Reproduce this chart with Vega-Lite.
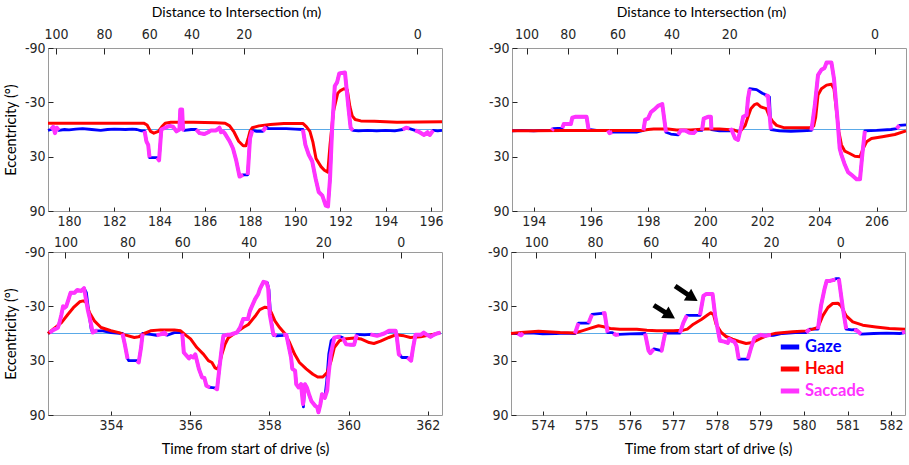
{
"$schema": "https://vega.github.io/schema/vega-lite/v6.json",
"padding": {"left": 2, "top": 4, "right": 2, "bottom": 2},
"background": "white",
"spacing": 5,
"datasets": {
"p1": [
{"s":"Gaze","g":0,"t":179.07,"v":1},{"s":"Gaze","g":0,"t":179.2,"v":0},{"s":"Gaze","g":0,"t":179.3,"v":-3},{"s":"Gaze","g":0,"t":179.38,"v":4},{"s":"Gaze","g":0,"t":179.46,"v":-2},{"s":"Gaze","g":0,"t":179.55,"v":1},{"s":"Gaze","g":0,"t":179.8,"v":0},{"s":"Gaze","g":0,"t":180.0,"v":0.5},{"s":"Gaze","g":0,"t":180.3,"v":-0.5},{"s":"Gaze","g":0,"t":180.6,"v":-1},{"s":"Gaze","g":0,"t":181.0,"v":0},{"s":"Gaze","g":0,"t":181.4,"v":1},{"s":"Gaze","g":0,"t":181.7,"v":0},{"s":"Gaze","g":0,"t":182.0,"v":-0.5},{"s":"Gaze","g":0,"t":182.5,"v":0},{"s":"Gaze","g":0,"t":182.8,"v":-0.5},{"s":"Gaze","g":0,"t":183.0,"v":0},{"s":"Gaze","g":0,"t":183.2,"v":1.5},{"s":"Gaze","g":0,"t":183.34,"v":1.5},{"s":"Gaze","g":0,"t":183.42,"v":13},{"s":"Gaze","g":0,"t":183.5,"v":17},{"s":"Gaze","g":0,"t":183.56,"v":31},{"s":"Gaze","g":0,"t":183.9,"v":31},{"s":"Gaze","g":0,"t":183.98,"v":34},{"s":"Gaze","g":0,"t":184.08,"v":0},{"s":"Gaze","g":0,"t":184.25,"v":-2},{"s":"Gaze","g":0,"t":184.45,"v":-4},{"s":"Gaze","g":0,"t":184.6,"v":-3},{"s":"Gaze","g":0,"t":184.75,"v":2},{"s":"Gaze","g":0,"t":184.88,"v":0},{"s":"Gaze","g":0,"t":184.92,"v":-22},{"s":"Gaze","g":0,"t":185.0,"v":-22},{"s":"Gaze","g":0,"t":185.04,"v":0},{"s":"Gaze","g":0,"t":185.1,"v":1},{"s":"Gaze","g":0,"t":185.4,"v":0},{"s":"Gaze","g":0,"t":185.62,"v":0},{"s":"Gaze","g":0,"t":185.77,"v":4},{"s":"Gaze","g":0,"t":185.99,"v":5},{"s":"Gaze","g":0,"t":186.15,"v":3},{"s":"Gaze","g":0,"t":186.28,"v":1},{"s":"Gaze","g":0,"t":186.5,"v":1},{"s":"Gaze","g":0,"t":186.65,"v":-2},{"s":"Gaze","g":0,"t":186.72,"v":3},{"s":"Gaze","g":0,"t":186.8,"v":2},{"s":"Gaze","g":0,"t":186.88,"v":4},{"s":"Gaze","g":0,"t":187.1,"v":13},{"s":"Gaze","g":0,"t":187.25,"v":21},{"s":"Gaze","g":0,"t":187.39,"v":34},{"s":"Gaze","g":0,"t":187.54,"v":52},{"s":"Gaze","g":0,"t":187.7,"v":50},{"s":"Gaze","g":0,"t":187.9,"v":50},{"s":"Gaze","g":0,"t":188.0,"v":10},{"s":"Gaze","g":0,"t":188.1,"v":1},{"s":"Gaze","g":0,"t":188.3,"v":2},{"s":"Gaze","g":0,"t":188.57,"v":2},{"s":"Gaze","g":0,"t":188.65,"v":-1},{"s":"Gaze","g":0,"t":188.72,"v":-3},{"s":"Gaze","g":0,"t":188.8,"v":-1},{"s":"Gaze","g":0,"t":189.2,"v":-1},{"s":"Gaze","g":0,"t":189.6,"v":-1},{"s":"Gaze","g":0,"t":190.0,"v":-0.5},{"s":"Gaze","g":0,"t":190.34,"v":0},{"s":"Gaze","g":0,"t":190.45,"v":17},{"s":"Gaze","g":0,"t":190.6,"v":28},{"s":"Gaze","g":0,"t":190.75,"v":35},{"s":"Gaze","g":0,"t":190.9,"v":54},{"s":"Gaze","g":0,"t":191.04,"v":69},{"s":"Gaze","g":0,"t":191.2,"v":73},{"s":"Gaze","g":0,"t":191.35,"v":84},{"s":"Gaze","g":0,"t":191.45,"v":85},{"s":"Gaze","g":0,"t":191.54,"v":54},{"s":"Gaze","g":0,"t":191.63,"v":0},{"s":"Gaze","g":0,"t":191.75,"v":-48},{"s":"Gaze","g":0,"t":191.85,"v":-52},{"s":"Gaze","g":0,"t":191.95,"v":-62},{"s":"Gaze","g":0,"t":192.2,"v":-63},{"s":"Gaze","g":0,"t":192.35,"v":-25},{"s":"Gaze","g":0,"t":192.45,"v":-2},{"s":"Gaze","g":0,"t":192.55,"v":1},{"s":"Gaze","g":0,"t":192.8,"v":1.5},{"s":"Gaze","g":0,"t":193.2,"v":1},{"s":"Gaze","g":0,"t":193.6,"v":1.5},{"s":"Gaze","g":0,"t":194.0,"v":1},{"s":"Gaze","g":0,"t":194.4,"v":1.5},{"s":"Gaze","g":0,"t":194.75,"v":0},{"s":"Gaze","g":0,"t":194.9,"v":-2},{"s":"Gaze","g":0,"t":195.05,"v":-1},{"s":"Gaze","g":0,"t":195.3,"v":1},{"s":"Gaze","g":0,"t":195.5,"v":3},{"s":"Gaze","g":0,"t":195.7,"v":6},{"s":"Gaze","g":0,"t":195.85,"v":3},{"s":"Gaze","g":0,"t":195.95,"v":6},{"s":"Gaze","g":0,"t":196.1,"v":1},{"s":"Gaze","g":0,"t":196.3,"v":1.5},{"s":"Gaze","g":0,"t":196.49,"v":1},
{"s":"Head","g":0,"t":179.07,"v":-7},{"s":"Head","g":0,"t":183.3,"v":-7},{"s":"Head","g":0,"t":183.45,"v":-5},{"s":"Head","g":0,"t":183.6,"v":2},{"s":"Head","g":0,"t":183.75,"v":4},{"s":"Head","g":0,"t":183.95,"v":2},{"s":"Head","g":0,"t":184.1,"v":-3},{"s":"Head","g":0,"t":184.25,"v":-7},{"s":"Head","g":0,"t":184.5,"v":-8},{"s":"Head","g":0,"t":185.5,"v":-8},{"s":"Head","g":0,"t":186.5,"v":-7.5},{"s":"Head","g":0,"t":186.9,"v":-7},{"s":"Head","g":0,"t":187.1,"v":-4},{"s":"Head","g":0,"t":187.3,"v":3},{"s":"Head","g":0,"t":187.5,"v":13},{"s":"Head","g":0,"t":187.7,"v":18},{"s":"Head","g":0,"t":187.82,"v":18},{"s":"Head","g":0,"t":187.92,"v":10},{"s":"Head","g":0,"t":188.0,"v":2},{"s":"Head","g":0,"t":188.1,"v":-2},{"s":"Head","g":0,"t":188.4,"v":-4},{"s":"Head","g":0,"t":188.9,"v":-5.5},{"s":"Head","g":0,"t":189.5,"v":-6.5},{"s":"Head","g":0,"t":190.35,"v":-6.5},{"s":"Head","g":0,"t":190.5,"v":-3},{"s":"Head","g":0,"t":190.65,"v":2},{"s":"Head","g":0,"t":190.78,"v":13.6},{"s":"Head","g":0,"t":190.92,"v":32},{"s":"Head","g":0,"t":191.14,"v":41},{"s":"Head","g":0,"t":191.29,"v":45},{"s":"Head","g":0,"t":191.44,"v":47},{"s":"Head","g":0,"t":191.54,"v":17},{"s":"Head","g":0,"t":191.69,"v":-20},{"s":"Head","g":0,"t":191.88,"v":-40},{"s":"Head","g":0,"t":192.0,"v":-43},{"s":"Head","g":0,"t":192.15,"v":-45},{"s":"Head","g":0,"t":192.3,"v":-44},{"s":"Head","g":0,"t":192.42,"v":-25},{"s":"Head","g":0,"t":192.52,"v":-15},{"s":"Head","g":0,"t":192.65,"v":-11},{"s":"Head","g":0,"t":192.9,"v":-9.5},{"s":"Head","g":0,"t":193.5,"v":-9},{"s":"Head","g":0,"t":194.5,"v":-8},{"s":"Head","g":0,"t":196.49,"v":-8.5},
{"s":"Saccade","g":1,"t":179.2,"v":0},{"s":"Saccade","g":1,"t":179.3,"v":-3},{"s":"Saccade","g":1,"t":179.38,"v":4},{"s":"Saccade","g":1,"t":179.46,"v":-2},{"s":"Saccade","g":1,"t":179.55,"v":1},
{"s":"Saccade","g":2,"t":183.34,"v":1.5},{"s":"Saccade","g":2,"t":183.42,"v":13},{"s":"Saccade","g":2,"t":183.5,"v":17},{"s":"Saccade","g":2,"t":183.56,"v":31},
{"s":"Saccade","g":3,"t":183.9,"v":31},{"s":"Saccade","g":3,"t":183.98,"v":34},{"s":"Saccade","g":3,"t":184.08,"v":0},{"s":"Saccade","g":3,"t":184.25,"v":-2},{"s":"Saccade","g":3,"t":184.45,"v":-4},{"s":"Saccade","g":3,"t":184.6,"v":-3},{"s":"Saccade","g":3,"t":184.75,"v":2},{"s":"Saccade","g":3,"t":184.88,"v":0},{"s":"Saccade","g":3,"t":184.92,"v":-22},{"s":"Saccade","g":3,"t":185.0,"v":-22},{"s":"Saccade","g":3,"t":185.04,"v":0},{"s":"Saccade","g":3,"t":185.1,"v":1},
{"s":"Saccade","g":4,"t":185.62,"v":0},{"s":"Saccade","g":4,"t":185.77,"v":4},{"s":"Saccade","g":4,"t":185.99,"v":5},{"s":"Saccade","g":4,"t":186.15,"v":3},{"s":"Saccade","g":4,"t":186.28,"v":1},{"s":"Saccade","g":4,"t":186.5,"v":1},{"s":"Saccade","g":4,"t":186.65,"v":-2},{"s":"Saccade","g":4,"t":186.72,"v":3},{"s":"Saccade","g":4,"t":186.8,"v":2},{"s":"Saccade","g":4,"t":186.88,"v":4},{"s":"Saccade","g":4,"t":187.1,"v":13},{"s":"Saccade","g":4,"t":187.25,"v":21},{"s":"Saccade","g":4,"t":187.39,"v":34},{"s":"Saccade","g":4,"t":187.54,"v":52},{"s":"Saccade","g":4,"t":187.7,"v":50},
{"s":"Saccade","g":5,"t":187.9,"v":50},{"s":"Saccade","g":5,"t":188.0,"v":10},{"s":"Saccade","g":5,"t":188.1,"v":1},
{"s":"Saccade","g":6,"t":188.57,"v":2},{"s":"Saccade","g":6,"t":188.65,"v":-1},{"s":"Saccade","g":6,"t":188.72,"v":-3},
{"s":"Saccade","g":7,"t":190.34,"v":0},{"s":"Saccade","g":7,"t":190.45,"v":17},{"s":"Saccade","g":7,"t":190.6,"v":28},{"s":"Saccade","g":7,"t":190.75,"v":35},{"s":"Saccade","g":7,"t":190.9,"v":54},{"s":"Saccade","g":7,"t":191.04,"v":69},{"s":"Saccade","g":7,"t":191.2,"v":73},{"s":"Saccade","g":7,"t":191.35,"v":84},{"s":"Saccade","g":7,"t":191.45,"v":85},{"s":"Saccade","g":7,"t":191.54,"v":54},{"s":"Saccade","g":7,"t":191.63,"v":0},{"s":"Saccade","g":7,"t":191.75,"v":-48},{"s":"Saccade","g":7,"t":191.85,"v":-52},{"s":"Saccade","g":7,"t":191.95,"v":-62},{"s":"Saccade","g":7,"t":192.2,"v":-63},{"s":"Saccade","g":7,"t":192.35,"v":-25},{"s":"Saccade","g":7,"t":192.45,"v":-2},{"s":"Saccade","g":7,"t":192.55,"v":1},
{"s":"Saccade","g":8,"t":194.75,"v":0},{"s":"Saccade","g":8,"t":194.9,"v":-2},{"s":"Saccade","g":8,"t":195.05,"v":-1},
{"s":"Saccade","g":9,"t":195.3,"v":1},{"s":"Saccade","g":9,"t":195.5,"v":3},{"s":"Saccade","g":9,"t":195.7,"v":6},{"s":"Saccade","g":9,"t":195.85,"v":3},{"s":"Saccade","g":9,"t":195.95,"v":6},{"s":"Saccade","g":9,"t":196.1,"v":1}
],
"p2": [
{"s":"Gaze","g":0,"t":193.24,"v":1.5},{"s":"Gaze","g":0,"t":193.6,"v":1},{"s":"Gaze","g":0,"t":194.0,"v":1.5},{"s":"Gaze","g":0,"t":194.3,"v":1},{"s":"Gaze","g":0,"t":194.63,"v":1},{"s":"Gaze","g":0,"t":194.68,"v":-1},{"s":"Gaze","g":0,"t":195.0,"v":-1.5},{"s":"Gaze","g":0,"t":195.05,"v":-6},{"s":"Gaze","g":0,"t":195.3,"v":-6},{"s":"Gaze","g":0,"t":195.35,"v":-13},{"s":"Gaze","g":0,"t":195.45,"v":-14},{"s":"Gaze","g":0,"t":195.85,"v":-14},{"s":"Gaze","g":0,"t":195.92,"v":0},{"s":"Gaze","g":0,"t":196.2,"v":1},{"s":"Gaze","g":0,"t":196.6,"v":1},{"s":"Gaze","g":0,"t":196.65,"v":4},{"s":"Gaze","g":0,"t":196.75,"v":3},{"s":"Gaze","g":0,"t":197.2,"v":3},{"s":"Gaze","g":0,"t":197.6,"v":3},{"s":"Gaze","g":0,"t":197.84,"v":1},{"s":"Gaze","g":0,"t":197.9,"v":-11},{"s":"Gaze","g":0,"t":198.0,"v":-12},{"s":"Gaze","g":0,"t":198.1,"v":-19},{"s":"Gaze","g":0,"t":198.25,"v":-23},{"s":"Gaze","g":0,"t":198.35,"v":-26},{"s":"Gaze","g":0,"t":198.5,"v":-28},{"s":"Gaze","g":0,"t":198.63,"v":3},{"s":"Gaze","g":0,"t":198.8,"v":5},{"s":"Gaze","g":0,"t":199.05,"v":6},{"s":"Gaze","g":0,"t":199.15,"v":1},{"s":"Gaze","g":0,"t":199.3,"v":1},{"s":"Gaze","g":0,"t":199.45,"v":3.5},{"s":"Gaze","g":0,"t":199.6,"v":4},{"s":"Gaze","g":0,"t":199.7,"v":1},{"s":"Gaze","g":0,"t":199.89,"v":1},{"s":"Gaze","g":0,"t":199.95,"v":-12},{"s":"Gaze","g":0,"t":200.1,"v":-14},{"s":"Gaze","g":0,"t":200.2,"v":-14},{"s":"Gaze","g":0,"t":200.22,"v":0},{"s":"Gaze","g":0,"t":200.5,"v":1.5},{"s":"Gaze","g":0,"t":200.86,"v":1.5},{"s":"Gaze","g":0,"t":200.92,"v":0},{"s":"Gaze","g":0,"t":201.05,"v":10},{"s":"Gaze","g":0,"t":201.15,"v":11.5},{"s":"Gaze","g":0,"t":201.27,"v":-4},{"s":"Gaze","g":0,"t":201.33,"v":-14},{"s":"Gaze","g":0,"t":201.45,"v":-16},{"s":"Gaze","g":0,"t":201.5,"v":-34},{"s":"Gaze","g":0,"t":201.56,"v":-45},{"s":"Gaze","g":0,"t":201.8,"v":-44},{"s":"Gaze","g":0,"t":202.0,"v":-40},{"s":"Gaze","g":0,"t":202.14,"v":-38},{"s":"Gaze","g":0,"t":202.25,"v":-36},{"s":"Gaze","g":0,"t":202.3,"v":0},{"s":"Gaze","g":0,"t":202.6,"v":1.5},{"s":"Gaze","g":0,"t":203.0,"v":2},{"s":"Gaze","g":0,"t":203.4,"v":1.5},{"s":"Gaze","g":0,"t":203.72,"v":1},{"s":"Gaze","g":0,"t":203.84,"v":-27},{"s":"Gaze","g":0,"t":203.95,"v":-60},{"s":"Gaze","g":0,"t":204.07,"v":-66},{"s":"Gaze","g":0,"t":204.18,"v":-68},{"s":"Gaze","g":0,"t":204.25,"v":-74},{"s":"Gaze","g":0,"t":204.42,"v":-74},{"s":"Gaze","g":0,"t":204.51,"v":-56},{"s":"Gaze","g":0,"t":204.63,"v":-12},{"s":"Gaze","g":0,"t":204.71,"v":21},{"s":"Gaze","g":0,"t":204.77,"v":28},{"s":"Gaze","g":0,"t":204.89,"v":39},{"s":"Gaze","g":0,"t":205.0,"v":47},{"s":"Gaze","g":0,"t":205.12,"v":50},{"s":"Gaze","g":0,"t":205.3,"v":55},{"s":"Gaze","g":0,"t":205.42,"v":55},{"s":"Gaze","g":0,"t":205.5,"v":28},{"s":"Gaze","g":0,"t":205.59,"v":1.5},{"s":"Gaze","g":0,"t":206.0,"v":1},{"s":"Gaze","g":0,"t":206.5,"v":0},{"s":"Gaze","g":0,"t":206.7,"v":-1},{"s":"Gaze","g":0,"t":206.8,"v":-4.5},{"s":"Gaze","g":0,"t":207.03,"v":-5},
{"s":"Head","g":0,"t":193.24,"v":1.5},{"s":"Head","g":0,"t":194.0,"v":1.5},{"s":"Head","g":0,"t":195.0,"v":1},{"s":"Head","g":0,"t":196.0,"v":1},{"s":"Head","g":0,"t":197.0,"v":1},{"s":"Head","g":0,"t":197.8,"v":1},{"s":"Head","g":0,"t":198.0,"v":0},{"s":"Head","g":0,"t":198.2,"v":-0.5},{"s":"Head","g":0,"t":198.7,"v":-0.5},{"s":"Head","g":0,"t":199.0,"v":0.5},{"s":"Head","g":0,"t":199.5,"v":0.5},{"s":"Head","g":0,"t":200.0,"v":-0.5},{"s":"Head","g":0,"t":200.5,"v":-0.5},{"s":"Head","g":0,"t":201.0,"v":0.5},{"s":"Head","g":0,"t":201.2,"v":3},{"s":"Head","g":0,"t":201.4,"v":-4.5},{"s":"Head","g":0,"t":201.5,"v":-14},{"s":"Head","g":0,"t":201.6,"v":-23},{"s":"Head","g":0,"t":201.73,"v":-27.5},{"s":"Head","g":0,"t":201.82,"v":-28.5},{"s":"Head","g":0,"t":201.95,"v":-25},{"s":"Head","g":0,"t":202.14,"v":-23},{"s":"Head","g":0,"t":202.25,"v":-14.5},{"s":"Head","g":0,"t":202.36,"v":-9},{"s":"Head","g":0,"t":202.5,"v":-4.5},{"s":"Head","g":0,"t":202.75,"v":-2},{"s":"Head","g":0,"t":203.68,"v":-2},{"s":"Head","g":0,"t":203.8,"v":-4},{"s":"Head","g":0,"t":203.87,"v":-14},{"s":"Head","g":0,"t":203.95,"v":-38},{"s":"Head","g":0,"t":204.07,"v":-45},{"s":"Head","g":0,"t":204.25,"v":-49},{"s":"Head","g":0,"t":204.42,"v":-50},{"s":"Head","g":0,"t":204.51,"v":-45},{"s":"Head","g":0,"t":204.6,"v":-19.5},{"s":"Head","g":0,"t":204.68,"v":2.5},{"s":"Head","g":0,"t":204.77,"v":17},{"s":"Head","g":0,"t":204.89,"v":24},{"s":"Head","g":0,"t":205.06,"v":26.5},{"s":"Head","g":0,"t":205.24,"v":29.5},{"s":"Head","g":0,"t":205.42,"v":30},{"s":"Head","g":0,"t":205.53,"v":21},{"s":"Head","g":0,"t":205.65,"v":13.5},{"s":"Head","g":0,"t":205.82,"v":10},{"s":"Head","g":0,"t":206.2,"v":8},{"s":"Head","g":0,"t":206.64,"v":5.5},{"s":"Head","g":0,"t":207.03,"v":1.5},
{"s":"Saccade","g":1,"t":194.63,"v":1},{"s":"Saccade","g":1,"t":194.68,"v":-1},
{"s":"Saccade","g":2,"t":195.0,"v":-1.5},{"s":"Saccade","g":2,"t":195.05,"v":-6},{"s":"Saccade","g":2,"t":195.3,"v":-6},{"s":"Saccade","g":2,"t":195.35,"v":-13},{"s":"Saccade","g":2,"t":195.45,"v":-14},{"s":"Saccade","g":2,"t":195.85,"v":-14},{"s":"Saccade","g":2,"t":195.92,"v":0},
{"s":"Saccade","g":3,"t":196.6,"v":1},{"s":"Saccade","g":3,"t":196.65,"v":4},{"s":"Saccade","g":3,"t":196.75,"v":3},
{"s":"Saccade","g":4,"t":197.84,"v":1},{"s":"Saccade","g":4,"t":197.9,"v":-11},{"s":"Saccade","g":4,"t":198.0,"v":-12},{"s":"Saccade","g":4,"t":198.1,"v":-19},{"s":"Saccade","g":4,"t":198.25,"v":-23},{"s":"Saccade","g":4,"t":198.35,"v":-26},{"s":"Saccade","g":4,"t":198.5,"v":-28},{"s":"Saccade","g":4,"t":198.63,"v":3},
{"s":"Saccade","g":5,"t":199.05,"v":6},{"s":"Saccade","g":5,"t":199.15,"v":1},{"s":"Saccade","g":5,"t":199.3,"v":1},{"s":"Saccade","g":5,"t":199.45,"v":3.5},{"s":"Saccade","g":5,"t":199.6,"v":4},{"s":"Saccade","g":5,"t":199.7,"v":1},
{"s":"Saccade","g":6,"t":199.89,"v":1},{"s":"Saccade","g":6,"t":199.95,"v":-12},{"s":"Saccade","g":6,"t":200.1,"v":-14},{"s":"Saccade","g":6,"t":200.2,"v":-14},{"s":"Saccade","g":6,"t":200.22,"v":0},
{"s":"Saccade","g":7,"t":200.86,"v":1.5},{"s":"Saccade","g":7,"t":200.92,"v":0},{"s":"Saccade","g":7,"t":201.05,"v":10},{"s":"Saccade","g":7,"t":201.15,"v":11.5},{"s":"Saccade","g":7,"t":201.27,"v":-4},{"s":"Saccade","g":7,"t":201.33,"v":-14},{"s":"Saccade","g":7,"t":201.45,"v":-16},{"s":"Saccade","g":7,"t":201.5,"v":-34},{"s":"Saccade","g":7,"t":201.56,"v":-45},
{"s":"Saccade","g":8,"t":202.1,"v":-38},{"s":"Saccade","g":8,"t":202.2,"v":-37},{"s":"Saccade","g":8,"t":202.3,"v":0},
{"s":"Saccade","g":9,"t":203.72,"v":1},{"s":"Saccade","g":9,"t":203.84,"v":-27},{"s":"Saccade","g":9,"t":203.95,"v":-60},{"s":"Saccade","g":9,"t":204.07,"v":-66},{"s":"Saccade","g":9,"t":204.18,"v":-68},{"s":"Saccade","g":9,"t":204.25,"v":-74},{"s":"Saccade","g":9,"t":204.42,"v":-74},{"s":"Saccade","g":9,"t":204.51,"v":-56},{"s":"Saccade","g":9,"t":204.63,"v":-12},{"s":"Saccade","g":9,"t":204.71,"v":21},{"s":"Saccade","g":9,"t":204.77,"v":28},{"s":"Saccade","g":9,"t":204.89,"v":39},{"s":"Saccade","g":9,"t":205.0,"v":47},{"s":"Saccade","g":9,"t":205.12,"v":50},{"s":"Saccade","g":9,"t":205.3,"v":55},{"s":"Saccade","g":9,"t":205.42,"v":55},{"s":"Saccade","g":9,"t":205.5,"v":28},{"s":"Saccade","g":9,"t":205.59,"v":1.5},
{"s":"Saccade","g":10,"t":206.7,"v":-1},{"s":"Saccade","g":10,"t":206.8,"v":-4.5}
],
"p3": [
{"s":"Gaze","g":0,"t":352.41,"v":0},{"s":"Gaze","g":0,"t":352.45,"v":-1},{"s":"Gaze","g":0,"t":352.55,"v":-4},{"s":"Gaze","g":0,"t":352.66,"v":-6.5},{"s":"Gaze","g":0,"t":352.7,"v":-12},{"s":"Gaze","g":0,"t":352.75,"v":-21},{"s":"Gaze","g":0,"t":352.79,"v":-30},{"s":"Gaze","g":0,"t":352.83,"v":-28.5},{"s":"Gaze","g":0,"t":352.87,"v":-30},{"s":"Gaze","g":0,"t":352.93,"v":-38},{"s":"Gaze","g":0,"t":352.98,"v":-45},{"s":"Gaze","g":0,"t":353.08,"v":-45},{"s":"Gaze","g":0,"t":353.15,"v":-48},{"s":"Gaze","g":0,"t":353.25,"v":-47},{"s":"Gaze","g":0,"t":353.32,"v":-50},{"s":"Gaze","g":0,"t":353.38,"v":-45},{"s":"Gaze","g":0,"t":353.45,"v":-20},{"s":"Gaze","g":0,"t":353.5,"v":-5},{"s":"Gaze","g":0,"t":353.54,"v":-1},{"s":"Gaze","g":0,"t":353.62,"v":-3},{"s":"Gaze","g":0,"t":353.8,"v":-3},{"s":"Gaze","g":0,"t":354.0,"v":-1},{"s":"Gaze","g":0,"t":354.29,"v":0},{"s":"Gaze","g":0,"t":354.35,"v":12},{"s":"Gaze","g":0,"t":354.42,"v":28},{"s":"Gaze","g":0,"t":354.45,"v":30},{"s":"Gaze","g":0,"t":354.66,"v":30},{"s":"Gaze","g":0,"t":354.7,"v":32},{"s":"Gaze","g":0,"t":354.76,"v":15.5},{"s":"Gaze","g":0,"t":354.8,"v":0},{"s":"Gaze","g":0,"t":355.0,"v":1},{"s":"Gaze","g":0,"t":355.15,"v":2},{"s":"Gaze","g":0,"t":355.25,"v":1},{"s":"Gaze","g":0,"t":355.35,"v":-1},{"s":"Gaze","g":0,"t":355.42,"v":2},{"s":"Gaze","g":0,"t":355.6,"v":-1},{"s":"Gaze","g":0,"t":355.76,"v":-1},{"s":"Gaze","g":0,"t":355.8,"v":0},{"s":"Gaze","g":0,"t":355.84,"v":21},{"s":"Gaze","g":0,"t":355.92,"v":25},{"s":"Gaze","g":0,"t":355.97,"v":27.5},{"s":"Gaze","g":0,"t":356.02,"v":25},{"s":"Gaze","g":0,"t":356.08,"v":26.5},{"s":"Gaze","g":0,"t":356.13,"v":23},{"s":"Gaze","g":0,"t":356.17,"v":30},{"s":"Gaze","g":0,"t":356.22,"v":39},{"s":"Gaze","g":0,"t":356.3,"v":48.5},{"s":"Gaze","g":0,"t":356.36,"v":49},{"s":"Gaze","g":0,"t":356.41,"v":57.7},{"s":"Gaze","g":0,"t":356.5,"v":59.6},{"s":"Gaze","g":0,"t":356.62,"v":60},{"s":"Gaze","g":0,"t":356.68,"v":61.5},{"s":"Gaze","g":0,"t":356.74,"v":37.5},{"s":"Gaze","g":0,"t":356.8,"v":15.5},{"s":"Gaze","g":0,"t":356.84,"v":2.5},{"s":"Gaze","g":0,"t":356.93,"v":1.5},{"s":"Gaze","g":0,"t":357.0,"v":1.5},{"s":"Gaze","g":0,"t":357.1,"v":0},{"s":"Gaze","g":0,"t":357.18,"v":-1},{"s":"Gaze","g":0,"t":357.26,"v":-6.5},{"s":"Gaze","g":0,"t":357.34,"v":-16},{"s":"Gaze","g":0,"t":357.46,"v":-16},{"s":"Gaze","g":0,"t":357.51,"v":-25},{"s":"Gaze","g":0,"t":357.64,"v":-38},{"s":"Gaze","g":0,"t":357.72,"v":-43.7},{"s":"Gaze","g":0,"t":357.76,"v":-49},{"s":"Gaze","g":0,"t":357.85,"v":-57},{"s":"Gaze","g":0,"t":357.95,"v":-56},{"s":"Gaze","g":0,"t":357.99,"v":-48},{"s":"Gaze","g":0,"t":358.03,"v":-21},{"s":"Gaze","g":0,"t":358.1,"v":2},{"s":"Gaze","g":0,"t":358.18,"v":2.5},{"s":"Gaze","g":0,"t":358.35,"v":2},{"s":"Gaze","g":0,"t":358.43,"v":1.5},{"s":"Gaze","g":0,"t":358.48,"v":12},{"s":"Gaze","g":0,"t":358.55,"v":27},{"s":"Gaze","g":0,"t":358.58,"v":39},{"s":"Gaze","g":0,"t":358.65,"v":41},{"s":"Gaze","g":0,"t":358.68,"v":56},{"s":"Gaze","g":0,"t":358.74,"v":59.6},{"s":"Gaze","g":0,"t":358.8,"v":56},{"s":"Gaze","g":0,"t":358.86,"v":81},{"s":"Gaze","g":0,"t":358.9,"v":56},{"s":"Gaze","g":0,"t":358.95,"v":60},{"s":"Gaze","g":0,"t":359.0,"v":67},{"s":"Gaze","g":0,"t":359.06,"v":74.5},{"s":"Gaze","g":0,"t":359.16,"v":80},{"s":"Gaze","g":0,"t":359.21,"v":81.6},{"s":"Gaze","g":0,"t":359.24,"v":87},{"s":"Gaze","g":0,"t":359.29,"v":78},{"s":"Gaze","g":0,"t":359.33,"v":67},{"s":"Gaze","g":0,"t":359.4,"v":71},{"s":"Gaze","g":0,"t":359.45,"v":52},{"s":"Gaze","g":0,"t":359.5,"v":23},{"s":"Gaze","g":0,"t":359.56,"v":8},{"s":"Gaze","g":0,"t":359.64,"v":4.5},{"s":"Gaze","g":0,"t":359.8,"v":3.7},{"s":"Gaze","g":0,"t":359.85,"v":4.5},{"s":"Gaze","g":0,"t":359.94,"v":12},{"s":"Gaze","g":0,"t":360.06,"v":12.5},{"s":"Gaze","g":0,"t":360.14,"v":12.5},{"s":"Gaze","g":0,"t":360.21,"v":1},{"s":"Gaze","g":0,"t":360.4,"v":1.5},{"s":"Gaze","g":0,"t":360.55,"v":1},{"s":"Gaze","g":0,"t":360.72,"v":2},{"s":"Gaze","g":0,"t":360.9,"v":0},{"s":"Gaze","g":0,"t":361.02,"v":-2},{"s":"Gaze","g":0,"t":361.19,"v":-3},{"s":"Gaze","g":0,"t":361.22,"v":4.5},{"s":"Gaze","g":0,"t":361.27,"v":23},{"s":"Gaze","g":0,"t":361.32,"v":25},{"s":"Gaze","g":0,"t":361.35,"v":26.5},{"s":"Gaze","g":0,"t":361.49,"v":26.5},{"s":"Gaze","g":0,"t":361.58,"v":30},{"s":"Gaze","g":0,"t":361.63,"v":15.5},{"s":"Gaze","g":0,"t":361.69,"v":1.5},{"s":"Gaze","g":0,"t":361.82,"v":1.5},{"s":"Gaze","g":0,"t":361.9,"v":-1},{"s":"Gaze","g":0,"t":361.98,"v":1.5},{"s":"Gaze","g":0,"t":362.07,"v":3.7},{"s":"Gaze","g":0,"t":362.15,"v":1.5},{"s":"Gaze","g":0,"t":362.23,"v":0},{"s":"Gaze","g":0,"t":362.32,"v":-1},
{"s":"Head","g":0,"t":352.41,"v":0},{"s":"Head","g":0,"t":352.55,"v":-5},{"s":"Head","g":0,"t":352.75,"v":-12},{"s":"Head","g":0,"t":352.91,"v":-21},{"s":"Head","g":0,"t":353.05,"v":-28.5},{"s":"Head","g":0,"t":353.21,"v":-35},{"s":"Head","g":0,"t":353.3,"v":-36},{"s":"Head","g":0,"t":353.37,"v":-34.6},{"s":"Head","g":0,"t":353.46,"v":-23},{"s":"Head","g":0,"t":353.58,"v":-14},{"s":"Head","g":0,"t":353.75,"v":-6.6},{"s":"Head","g":0,"t":354.0,"v":-3},{"s":"Head","g":0,"t":354.2,"v":-1},{"s":"Head","g":0,"t":354.35,"v":1.5},{"s":"Head","g":0,"t":354.59,"v":4.4},{"s":"Head","g":0,"t":354.7,"v":3.7},{"s":"Head","g":0,"t":354.84,"v":0},{"s":"Head","g":0,"t":355.0,"v":-3},{"s":"Head","g":0,"t":355.25,"v":-4},{"s":"Head","g":0,"t":355.6,"v":-4},{"s":"Head","g":0,"t":355.76,"v":-3},{"s":"Head","g":0,"t":355.88,"v":1.5},{"s":"Head","g":0,"t":356.01,"v":6},{"s":"Head","g":0,"t":356.17,"v":15.5},{"s":"Head","g":0,"t":356.34,"v":23},{"s":"Head","g":0,"t":356.46,"v":30},{"s":"Head","g":0,"t":356.55,"v":32},{"s":"Head","g":0,"t":356.63,"v":38},{"s":"Head","g":0,"t":356.68,"v":39},{"s":"Head","g":0,"t":356.72,"v":37},{"s":"Head","g":0,"t":356.8,"v":23},{"s":"Head","g":0,"t":356.88,"v":12},{"s":"Head","g":0,"t":356.96,"v":5},{"s":"Head","g":0,"t":357.1,"v":0.7},{"s":"Head","g":0,"t":357.22,"v":-3},{"s":"Head","g":0,"t":357.34,"v":-6.6},{"s":"Head","g":0,"t":357.47,"v":-10},{"s":"Head","g":0,"t":357.64,"v":-19},{"s":"Head","g":0,"t":357.76,"v":-26.5},{"s":"Head","g":0,"t":357.89,"v":-29},{"s":"Head","g":0,"t":357.97,"v":-28.5},{"s":"Head","g":0,"t":358.05,"v":-23},{"s":"Head","g":0,"t":358.14,"v":-14},{"s":"Head","g":0,"t":358.26,"v":-6.6},{"s":"Head","g":0,"t":358.39,"v":0},{"s":"Head","g":0,"t":358.51,"v":10},{"s":"Head","g":0,"t":358.64,"v":23},{"s":"Head","g":0,"t":358.76,"v":32},{"s":"Head","g":0,"t":358.93,"v":39},{"s":"Head","g":0,"t":359.1,"v":45},{"s":"Head","g":0,"t":359.22,"v":48},{"s":"Head","g":0,"t":359.35,"v":48},{"s":"Head","g":0,"t":359.46,"v":43},{"s":"Head","g":0,"t":359.56,"v":30},{"s":"Head","g":0,"t":359.64,"v":15.5},{"s":"Head","g":0,"t":359.77,"v":8},{"s":"Head","g":0,"t":359.89,"v":6},{"s":"Head","g":0,"t":360.15,"v":5},{"s":"Head","g":0,"t":360.31,"v":6},{"s":"Head","g":0,"t":360.52,"v":10},{"s":"Head","g":0,"t":360.64,"v":11},{"s":"Head","g":0,"t":360.81,"v":8.5},{"s":"Head","g":0,"t":361.02,"v":4.4},{"s":"Head","g":0,"t":361.19,"v":1.5},{"s":"Head","g":0,"t":361.4,"v":2.6},{"s":"Head","g":0,"t":361.56,"v":4.4},{"s":"Head","g":0,"t":361.82,"v":3.7},{"s":"Head","g":0,"t":362.07,"v":1.5},{"s":"Head","g":0,"t":362.32,"v":-1},
{"s":"Saccade","g":1,"t":352.45,"v":-1},{"s":"Saccade","g":1,"t":352.55,"v":-4},{"s":"Saccade","g":1,"t":352.66,"v":-6.5},{"s":"Saccade","g":1,"t":352.7,"v":-12},{"s":"Saccade","g":1,"t":352.75,"v":-21},{"s":"Saccade","g":1,"t":352.79,"v":-30},{"s":"Saccade","g":1,"t":352.83,"v":-28.5},{"s":"Saccade","g":1,"t":352.87,"v":-30},{"s":"Saccade","g":1,"t":352.93,"v":-38},{"s":"Saccade","g":1,"t":352.98,"v":-45},{"s":"Saccade","g":1,"t":353.08,"v":-45},{"s":"Saccade","g":1,"t":353.15,"v":-48},{"s":"Saccade","g":1,"t":353.25,"v":-47},{"s":"Saccade","g":1,"t":353.32,"v":-50},{"s":"Saccade","g":1,"t":353.36,"v":-40},{"s":"Saccade","g":1,"t":353.42,"v":-25},{"s":"Saccade","g":1,"t":353.48,"v":-14},{"s":"Saccade","g":1,"t":353.54,"v":-1},{"s":"Saccade","g":1,"t":353.62,"v":-3},{"s":"Saccade","g":1,"t":353.66,"v":-3},
{"s":"Saccade","g":2,"t":354.29,"v":0},{"s":"Saccade","g":2,"t":354.35,"v":12},{"s":"Saccade","g":2,"t":354.42,"v":28},
{"s":"Saccade","g":3,"t":354.66,"v":30},{"s":"Saccade","g":3,"t":354.7,"v":32},{"s":"Saccade","g":3,"t":354.76,"v":15.5},{"s":"Saccade","g":3,"t":354.8,"v":0},
{"s":"Saccade","g":4,"t":355.15,"v":2},{"s":"Saccade","g":4,"t":355.25,"v":1},{"s":"Saccade","g":4,"t":355.35,"v":-1},{"s":"Saccade","g":4,"t":355.42,"v":2},
{"s":"Saccade","g":5,"t":355.8,"v":0},{"s":"Saccade","g":5,"t":355.84,"v":21},{"s":"Saccade","g":5,"t":355.92,"v":25},{"s":"Saccade","g":5,"t":355.97,"v":27.5},{"s":"Saccade","g":5,"t":356.02,"v":25},{"s":"Saccade","g":5,"t":356.08,"v":26.5},{"s":"Saccade","g":5,"t":356.13,"v":23},{"s":"Saccade","g":5,"t":356.17,"v":30},{"s":"Saccade","g":5,"t":356.22,"v":39},{"s":"Saccade","g":5,"t":356.3,"v":48.5},{"s":"Saccade","g":5,"t":356.36,"v":49},{"s":"Saccade","g":5,"t":356.41,"v":57.7},{"s":"Saccade","g":5,"t":356.5,"v":59.6},
{"s":"Saccade","g":6,"t":356.62,"v":60},{"s":"Saccade","g":6,"t":356.68,"v":61.5},{"s":"Saccade","g":6,"t":356.74,"v":37.5},{"s":"Saccade","g":6,"t":356.8,"v":15.5},{"s":"Saccade","g":6,"t":356.84,"v":2.5},{"s":"Saccade","g":6,"t":356.93,"v":1.5},{"s":"Saccade","g":6,"t":357.0,"v":1.5},{"s":"Saccade","g":6,"t":357.1,"v":0},{"s":"Saccade","g":6,"t":357.18,"v":-1},{"s":"Saccade","g":6,"t":357.26,"v":-6.5},{"s":"Saccade","g":6,"t":357.34,"v":-16},{"s":"Saccade","g":6,"t":357.46,"v":-16},{"s":"Saccade","g":6,"t":357.51,"v":-25},{"s":"Saccade","g":6,"t":357.64,"v":-38},{"s":"Saccade","g":6,"t":357.72,"v":-43.7},{"s":"Saccade","g":6,"t":357.76,"v":-49},{"s":"Saccade","g":6,"t":357.85,"v":-57},{"s":"Saccade","g":6,"t":357.93,"v":-56},{"s":"Saccade","g":6,"t":357.97,"v":-50},{"s":"Saccade","g":6,"t":358.01,"v":-21},{"s":"Saccade","g":6,"t":358.1,"v":0.7},{"s":"Saccade","g":6,"t":358.18,"v":2.5},
{"s":"Saccade","g":7,"t":358.35,"v":1.5},{"s":"Saccade","g":7,"t":358.43,"v":1.5},{"s":"Saccade","g":7,"t":358.48,"v":12},{"s":"Saccade","g":7,"t":358.55,"v":27},{"s":"Saccade","g":7,"t":358.58,"v":39},{"s":"Saccade","g":7,"t":358.65,"v":41},{"s":"Saccade","g":7,"t":358.68,"v":56},{"s":"Saccade","g":7,"t":358.74,"v":59.6},{"s":"Saccade","g":7,"t":358.8,"v":56},{"s":"Saccade","g":7,"t":358.85,"v":78},{"s":"Saccade","g":7,"t":358.9,"v":56},{"s":"Saccade","g":7,"t":358.95,"v":60},{"s":"Saccade","g":7,"t":359.0,"v":67},{"s":"Saccade","g":7,"t":359.06,"v":74.5},{"s":"Saccade","g":7,"t":359.16,"v":80},{"s":"Saccade","g":7,"t":359.21,"v":81.6},{"s":"Saccade","g":7,"t":359.24,"v":87},{"s":"Saccade","g":7,"t":359.29,"v":78},{"s":"Saccade","g":7,"t":359.33,"v":67},{"s":"Saccade","g":7,"t":359.4,"v":71},{"s":"Saccade","g":7,"t":359.46,"v":63},{"s":"Saccade","g":7,"t":359.48,"v":52},{"s":"Saccade","g":7,"t":359.55,"v":23},{"s":"Saccade","g":7,"t":359.64,"v":4.5},{"s":"Saccade","g":7,"t":359.72,"v":3.7},{"s":"Saccade","g":7,"t":359.8,"v":3.7},
{"s":"Saccade","g":8,"t":359.85,"v":4.5},{"s":"Saccade","g":8,"t":359.94,"v":12},{"s":"Saccade","g":8,"t":360.06,"v":12.5},{"s":"Saccade","g":8,"t":360.14,"v":12.5},{"s":"Saccade","g":8,"t":360.21,"v":1},
{"s":"Saccade","g":9,"t":360.55,"v":1},{"s":"Saccade","g":9,"t":360.72,"v":2.6},{"s":"Saccade","g":9,"t":360.9,"v":0},{"s":"Saccade","g":9,"t":361.02,"v":-3},{"s":"Saccade","g":9,"t":361.19,"v":-3},{"s":"Saccade","g":9,"t":361.22,"v":4.5},{"s":"Saccade","g":9,"t":361.27,"v":23},{"s":"Saccade","g":9,"t":361.32,"v":25},
{"s":"Saccade","g":10,"t":361.49,"v":26.5},{"s":"Saccade","g":10,"t":361.58,"v":30},{"s":"Saccade","g":10,"t":361.63,"v":15.5},{"s":"Saccade","g":10,"t":361.69,"v":1.5},{"s":"Saccade","g":10,"t":361.82,"v":1.5},{"s":"Saccade","g":10,"t":361.9,"v":-1},{"s":"Saccade","g":10,"t":361.98,"v":1.5},{"s":"Saccade","g":10,"t":362.07,"v":3.7},{"s":"Saccade","g":10,"t":362.15,"v":1.5},{"s":"Saccade","g":10,"t":362.23,"v":0},{"s":"Saccade","g":10,"t":362.32,"v":-1}
],
"p4": [
{"s":"Gaze","g":0,"t":573.27,"v":0},{"s":"Gaze","g":0,"t":573.43,"v":0},{"s":"Gaze","g":0,"t":573.5,"v":2},{"s":"Gaze","g":0,"t":573.55,"v":-0.5},{"s":"Gaze","g":0,"t":573.8,"v":-0.5},{"s":"Gaze","g":0,"t":574.0,"v":0.5},{"s":"Gaze","g":0,"t":574.3,"v":0},{"s":"Gaze","g":0,"t":574.5,"v":-0.5},{"s":"Gaze","g":0,"t":574.74,"v":0},{"s":"Gaze","g":0,"t":574.82,"v":-11.4},{"s":"Gaze","g":0,"t":575.05,"v":-11.4},{"s":"Gaze","g":0,"t":575.13,"v":-21},{"s":"Gaze","g":0,"t":575.3,"v":-22},{"s":"Gaze","g":0,"t":575.42,"v":-22.5},{"s":"Gaze","g":0,"t":575.49,"v":-1},{"s":"Gaze","g":0,"t":575.6,"v":-1},{"s":"Gaze","g":0,"t":575.68,"v":1.5},{"s":"Gaze","g":0,"t":575.75,"v":1},{"s":"Gaze","g":0,"t":576.0,"v":0.5},{"s":"Gaze","g":0,"t":576.35,"v":0},{"s":"Gaze","g":0,"t":576.43,"v":19},{"s":"Gaze","g":0,"t":576.47,"v":21.7},{"s":"Gaze","g":0,"t":576.55,"v":17},{"s":"Gaze","g":0,"t":576.73,"v":19},{"s":"Gaze","g":0,"t":576.81,"v":-0.4},{"s":"Gaze","g":0,"t":577.0,"v":-0.5},{"s":"Gaze","g":0,"t":577.15,"v":-0.5},{"s":"Gaze","g":0,"t":577.23,"v":-12},{"s":"Gaze","g":0,"t":577.31,"v":-20},{"s":"Gaze","g":0,"t":577.61,"v":-20},{"s":"Gaze","g":0,"t":577.69,"v":-41.5},{"s":"Gaze","g":0,"t":577.75,"v":-43.5},{"s":"Gaze","g":0,"t":577.9,"v":-43.5},{"s":"Gaze","g":0,"t":577.96,"v":-19.5},{"s":"Gaze","g":0,"t":578.04,"v":0.7},{"s":"Gaze","g":0,"t":578.07,"v":8},{"s":"Gaze","g":0,"t":578.17,"v":9},{"s":"Gaze","g":0,"t":578.25,"v":10.5},{"s":"Gaze","g":0,"t":578.28,"v":6},{"s":"Gaze","g":0,"t":578.34,"v":8},{"s":"Gaze","g":0,"t":578.4,"v":9},{"s":"Gaze","g":0,"t":578.45,"v":13.6},{"s":"Gaze","g":0,"t":578.5,"v":28.3},{"s":"Gaze","g":0,"t":578.71,"v":28.3},{"s":"Gaze","g":0,"t":578.78,"v":16.5},{"s":"Gaze","g":0,"t":578.86,"v":5},{"s":"Gaze","g":0,"t":578.94,"v":3},{"s":"Gaze","g":0,"t":579.01,"v":1.5},{"s":"Gaze","g":0,"t":579.1,"v":2.5},{"s":"Gaze","g":0,"t":579.3,"v":2},{"s":"Gaze","g":0,"t":579.5,"v":0},{"s":"Gaze","g":0,"t":579.8,"v":-1},{"s":"Gaze","g":0,"t":580.05,"v":-1},{"s":"Gaze","g":0,"t":580.13,"v":-4.8},{"s":"Gaze","g":0,"t":580.32,"v":-4.8},{"s":"Gaze","g":0,"t":580.39,"v":-30.5},{"s":"Gaze","g":0,"t":580.47,"v":-48.9},{"s":"Gaze","g":0,"t":580.52,"v":-58},{"s":"Gaze","g":0,"t":580.6,"v":-58},{"s":"Gaze","g":0,"t":580.66,"v":-59},{"s":"Gaze","g":0,"t":580.74,"v":-60.6},{"s":"Gaze","g":0,"t":580.8,"v":-60.6},{"s":"Gaze","g":0,"t":580.89,"v":-28.7},{"s":"Gaze","g":0,"t":580.97,"v":-4.8},{"s":"Gaze","g":0,"t":581.1,"v":-4},{"s":"Gaze","g":0,"t":581.2,"v":-4.5},{"s":"Gaze","g":0,"t":581.31,"v":0.7},{"s":"Gaze","g":0,"t":581.6,"v":0},{"s":"Gaze","g":0,"t":581.9,"v":-0.5},{"s":"Gaze","g":0,"t":582.2,"v":0},{"s":"Gaze","g":0,"t":582.32,"v":-1},
{"s":"Head","g":0,"t":573.27,"v":0},{"s":"Head","g":0,"t":573.5,"v":-1},{"s":"Head","g":0,"t":573.9,"v":-2.6},{"s":"Head","g":0,"t":574.4,"v":-1},{"s":"Head","g":0,"t":574.74,"v":-0.5},{"s":"Head","g":0,"t":574.9,"v":-2.9},{"s":"Head","g":0,"t":575.1,"v":-5.9},{"s":"Head","g":0,"t":575.28,"v":-8.5},{"s":"Head","g":0,"t":575.4,"v":-7.5},{"s":"Head","g":0,"t":575.55,"v":-5.5},{"s":"Head","g":0,"t":575.77,"v":-4.8},{"s":"Head","g":0,"t":576.16,"v":-4.8},{"s":"Head","g":0,"t":576.39,"v":-3.7},{"s":"Head","g":0,"t":576.62,"v":-3},{"s":"Head","g":0,"t":577.0,"v":-3},{"s":"Head","g":0,"t":577.23,"v":-3.7},{"s":"Head","g":0,"t":577.32,"v":-4.8},{"s":"Head","g":0,"t":577.46,"v":-10.3},{"s":"Head","g":0,"t":577.65,"v":-15.8},{"s":"Head","g":0,"t":577.8,"v":-21},{"s":"Head","g":0,"t":577.86,"v":-22.8},{"s":"Head","g":0,"t":577.92,"v":-21},{"s":"Head","g":0,"t":577.98,"v":-10.3},{"s":"Head","g":0,"t":578.1,"v":-1.1},{"s":"Head","g":0,"t":578.21,"v":3.3},{"s":"Head","g":0,"t":578.36,"v":6.2},{"s":"Head","g":0,"t":578.51,"v":8.8},{"s":"Head","g":0,"t":578.67,"v":11},{"s":"Head","g":0,"t":578.82,"v":9.9},{"s":"Head","g":0,"t":578.97,"v":6.2},{"s":"Head","g":0,"t":579.17,"v":1.8},{"s":"Head","g":0,"t":579.36,"v":-0.4},{"s":"Head","g":0,"t":579.74,"v":-1.8},{"s":"Head","g":0,"t":580.05,"v":-2.9},{"s":"Head","g":0,"t":580.2,"v":-4.8},{"s":"Head","g":0,"t":580.32,"v":-6.6},{"s":"Head","g":0,"t":580.43,"v":-19.5},{"s":"Head","g":0,"t":580.55,"v":-28.7},{"s":"Head","g":0,"t":580.66,"v":-33.1},{"s":"Head","g":0,"t":580.78,"v":-33.4},{"s":"Head","g":0,"t":580.85,"v":-30.5},{"s":"Head","g":0,"t":580.97,"v":-19.5},{"s":"Head","g":0,"t":581.12,"v":-12.9},{"s":"Head","g":0,"t":581.35,"v":-9.2},{"s":"Head","g":0,"t":581.65,"v":-7.3},{"s":"Head","g":0,"t":581.96,"v":-5.5},{"s":"Head","g":0,"t":582.32,"v":-4.8},
{"s":"Saccade","g":1,"t":573.43,"v":0},{"s":"Saccade","g":1,"t":573.5,"v":2},{"s":"Saccade","g":1,"t":573.55,"v":-0.5},
{"s":"Saccade","g":2,"t":574.74,"v":0},{"s":"Saccade","g":2,"t":574.82,"v":-11.4},
{"s":"Saccade","g":3,"t":575.05,"v":-11.4},{"s":"Saccade","g":3,"t":575.13,"v":-21},
{"s":"Saccade","g":4,"t":575.36,"v":-22},{"s":"Saccade","g":4,"t":575.42,"v":-22.5},{"s":"Saccade","g":4,"t":575.49,"v":-1},
{"s":"Saccade","g":5,"t":575.62,"v":0},{"s":"Saccade","g":5,"t":575.68,"v":1.5},{"s":"Saccade","g":5,"t":575.75,"v":1},
{"s":"Saccade","g":6,"t":576.35,"v":0},{"s":"Saccade","g":6,"t":576.43,"v":19},{"s":"Saccade","g":6,"t":576.47,"v":21.7},{"s":"Saccade","g":6,"t":576.55,"v":17},
{"s":"Saccade","g":7,"t":576.7,"v":19},{"s":"Saccade","g":7,"t":576.73,"v":19},{"s":"Saccade","g":7,"t":576.81,"v":-0.4},
{"s":"Saccade","g":8,"t":577.15,"v":-0.5},{"s":"Saccade","g":8,"t":577.23,"v":-12},{"s":"Saccade","g":8,"t":577.31,"v":-20},
{"s":"Saccade","g":9,"t":577.61,"v":-20},{"s":"Saccade","g":9,"t":577.69,"v":-41.5},{"s":"Saccade","g":9,"t":577.75,"v":-43.5},{"s":"Saccade","g":9,"t":577.9,"v":-43.5},{"s":"Saccade","g":9,"t":577.96,"v":-19.5},{"s":"Saccade","g":9,"t":578.04,"v":0.7},{"s":"Saccade","g":9,"t":578.07,"v":8},{"s":"Saccade","g":9,"t":578.17,"v":9},{"s":"Saccade","g":9,"t":578.25,"v":10.5},{"s":"Saccade","g":9,"t":578.28,"v":6},{"s":"Saccade","g":9,"t":578.34,"v":8},{"s":"Saccade","g":9,"t":578.4,"v":9},{"s":"Saccade","g":9,"t":578.45,"v":13.6},{"s":"Saccade","g":9,"t":578.5,"v":28.3},
{"s":"Saccade","g":10,"t":578.71,"v":28.3},{"s":"Saccade","g":10,"t":578.78,"v":16.5},{"s":"Saccade","g":10,"t":578.86,"v":5},{"s":"Saccade","g":10,"t":578.94,"v":3},{"s":"Saccade","g":10,"t":579.01,"v":1.5},{"s":"Saccade","g":10,"t":579.1,"v":2.5},{"s":"Saccade","g":10,"t":579.24,"v":1.5},
{"s":"Saccade","g":11,"t":580.05,"v":-1},{"s":"Saccade","g":11,"t":580.13,"v":-4.8},
{"s":"Saccade","g":12,"t":580.32,"v":-4.8},{"s":"Saccade","g":12,"t":580.39,"v":-30.5},{"s":"Saccade","g":12,"t":580.47,"v":-48.9},{"s":"Saccade","g":12,"t":580.52,"v":-58},{"s":"Saccade","g":12,"t":580.6,"v":-58},{"s":"Saccade","g":12,"t":580.66,"v":-59},{"s":"Saccade","g":12,"t":580.72,"v":-59},
{"s":"Saccade","g":13,"t":580.8,"v":-60.6},{"s":"Saccade","g":13,"t":580.89,"v":-28.7},{"s":"Saccade","g":13,"t":580.97,"v":-4.8},
{"s":"Saccade","g":14,"t":581.15,"v":-4},{"s":"Saccade","g":14,"t":581.22,"v":-3},{"s":"Saccade","g":14,"t":581.31,"v":0.7},
{"s":"Saccade","g":15,"t":582.25,"v":-1},{"s":"Saccade","g":15,"t":582.32,"v":-2}
],
"zero": [{"v":0}],
"arrows": [{"t1":576.55,"v1":-31.2,"t2":576.92,"v2":-20.0},{"t1":577.04,"v1":-52.5,"t2":577.44,"v2":-39.5}]
},
"vconcat": [
{"hconcat": [
{"width":394,"height":163,"data":{"name":"p1"},
 "layer":[
  {"data":{"name":"zero"},"mark":{"type":"rule","color":"#5aaae8","strokeWidth":1},"encoding":{"y":{"field":"v","type":"quantitative","title":"Eccentricity (°)"}}},
  {"transform":[{"filter":"datum.s === 'Gaze'"}],"mark":{"type":"line","strokeWidth":2.8,"strokeJoin":"round"},
   "encoding":{"x":{"field":"t","type":"quantitative","scale":{"domain":[179.07,196.49],"nice":false,"zero":false},"axis":{"orient":"bottom","values":[180,182,184,186,188,190,192,194,196],"labelExpr":"'' + datum.value","tickSize":-4,"labelPadding":7,"title":null}},
   "y":{"field":"v","type":"quantitative","scale":{"domain":[-90,90],"reverse":true,"nice":false,"zero":false},"axis":{"values":[-90,-60,-30,0,30,60,90],"labelExpr":"'' + datum.value","tickSize":-5,"labelPadding":8,"titlePadding":6},"title":"Eccentricity (°)"},
   "color":{"field":"s","type":"nominal","scale":{"domain":["Gaze","Head","Saccade"],"range":["#0000ff","#ff0000","#ff33ff"]},"title":null,"legend":{"encode":{"labels":{"update":{"fill":{"signal":"datum.value === 'Gaze' ? '#0000ff' : datum.value === 'Head' ? '#ff0000' : '#ff33ff'"}}}}}},
   "detail":{"field":"g","type":"nominal"}}},
  {"transform":[{"filter":"datum.s === 'Head'"}],"mark":{"type":"line","strokeWidth":3,"strokeJoin":"round"},
   "encoding":{"x":{"field":"t","type":"quantitative","axis":{"orient":"top","values":[179.42,181.55,183.55,185.42,187.72,195.4],"labelExpr":"['100','80','60','40','20','0'][indexof([179.42,181.55,183.55,185.42,187.72,195.4], datum.value)]","tickSize":-6,"labelPadding":13,"title":"Distance to Intersection (m)","titlePadding":8,"titleX":188,"titleFontSize":14}},
   "y":{"field":"v","type":"quantitative","title":"Eccentricity (°)"},
   "color":{"field":"s","type":"nominal","title":null},
   "detail":{"field":"g","type":"nominal"}}},
  {"transform":[{"filter":"datum.s === 'Saccade'"}],"mark":{"type":"line","strokeWidth":4,"strokeJoin":"round"},
   "encoding":{"x":{"field":"t","type":"quantitative","axis":null},
   "y":{"field":"v","type":"quantitative","title":"Eccentricity (°)"},
   "color":{"field":"s","type":"nominal","title":null},
   "detail":{"field":"g","type":"nominal"}}}
 ],
 "resolve":{"axis":{"x":"independent"}}
},
{"width":394,"height":163,"data":{"name":"p2"},
 "layer":[
  {"data":{"name":"zero"},"mark":{"type":"rule","color":"#5aaae8","strokeWidth":1},"encoding":{"y":{"field":"v","type":"quantitative","title":null}}},
  {"transform":[{"filter":"datum.s === 'Gaze'"}],"mark":{"type":"line","strokeWidth":2.8,"strokeJoin":"round"},
   "encoding":{"x":{"field":"t","type":"quantitative","scale":{"domain":[193.24,207.03],"nice":false,"zero":false},"axis":{"orient":"bottom","values":[194,196,198,200,202,204,206],"labelExpr":"'' + datum.value","tickSize":-4,"labelPadding":7,"title":null}},
   "y":{"field":"v","type":"quantitative","scale":{"domain":[-90,90],"reverse":true,"nice":false,"zero":false},"axis":{"values":[-90,-60,-30,0,30,60,90],"labelExpr":"'' + datum.value","tickSize":-5,"labelPadding":8},"title":null},
   "color":{"field":"s","type":"nominal","title":null},
   "detail":{"field":"g","type":"nominal"}}},
  {"transform":[{"filter":"datum.s === 'Head'"}],"mark":{"type":"line","strokeWidth":3,"strokeJoin":"round"},
   "encoding":{"x":{"field":"t","type":"quantitative","axis":{"orient":"top","values":[193.75,195.19,196.93,198.82,200.84,205.93],"labelExpr":"['100','80','60','40','20','0'][indexof([193.75,195.19,196.93,198.82,200.84,205.93], datum.value)]","tickSize":-6,"labelPadding":13,"title":"Distance to Intersection (m)","titlePadding":8,"titleX":189,"titleFontSize":14}},
   "y":{"field":"v","type":"quantitative","title":null},
   "color":{"field":"s","type":"nominal","title":null},
   "detail":{"field":"g","type":"nominal"}}},
  {"transform":[{"filter":"datum.s === 'Saccade'"}],"mark":{"type":"line","strokeWidth":4,"strokeJoin":"round"},
   "encoding":{"x":{"field":"t","type":"quantitative","axis":null},
   "y":{"field":"v","type":"quantitative","title":null},
   "color":{"field":"s","type":"nominal","title":null},
   "detail":{"field":"g","type":"nominal"}}}
 ],
 "resolve":{"axis":{"x":"independent"}}
}
], "spacing": 43},
{"hconcat": [
{"width":394,"height":163,"data":{"name":"p3"},
 "layer":[
  {"data":{"name":"zero"},"mark":{"type":"rule","color":"#5aaae8","strokeWidth":1},"encoding":{"y":{"field":"v","type":"quantitative","title":"Eccentricity (°)"}}},
  {"transform":[{"filter":"datum.s === 'Gaze'"}],"mark":{"type":"line","strokeWidth":2.8,"strokeJoin":"round"},
   "encoding":{"x":{"field":"t","type":"quantitative","scale":{"domain":[352.41,362.36],"nice":false,"zero":false},"axis":{"orient":"bottom","values":[354,356,358,360,362],"labelExpr":"'' + datum.value","tickSize":-4,"labelPadding":7,"title":"Time from start of drive (s)","titlePadding":10}},
   "y":{"field":"v","type":"quantitative","scale":{"domain":[-90,90],"reverse":true,"nice":false,"zero":false},"axis":{"values":[-90,-60,-30,0,30,60,90],"labelExpr":"'' + datum.value","tickSize":-5,"labelPadding":8,"titlePadding":6},"title":"Eccentricity (°)"},
   "color":{"field":"s","type":"nominal","title":null},
   "detail":{"field":"g","type":"nominal"}}},
  {"transform":[{"filter":"datum.s === 'Head'"}],"mark":{"type":"line","strokeWidth":3,"strokeJoin":"round"},
   "encoding":{"x":{"field":"t","type":"quantitative","axis":{"orient":"top","values":[352.85,354.42,355.8,357.48,359.36,361.32],"labelExpr":"['100','80','60','40','20','0'][indexof([352.85,354.42,355.8,357.48,359.36,361.32], datum.value)]","tickSize":-6,"labelPadding":9,"title":null}},
   "y":{"field":"v","type":"quantitative","title":"Eccentricity (°)"},
   "color":{"field":"s","type":"nominal","title":null},
   "detail":{"field":"g","type":"nominal"}}},
  {"transform":[{"filter":"datum.s === 'Saccade'"}],"mark":{"type":"line","strokeWidth":4,"strokeJoin":"round"},
   "encoding":{"x":{"field":"t","type":"quantitative","axis":null},
   "y":{"field":"v","type":"quantitative","title":"Eccentricity (°)"},
   "color":{"field":"s","type":"nominal","title":null},
   "detail":{"field":"g","type":"nominal"}}}
 ],
 "resolve":{"axis":{"x":"independent"}}
},
{"width":394,"height":163,"data":{"name":"p4"},
 "layer":[
  {"data":{"name":"zero"},"mark":{"type":"rule","color":"#5aaae8","strokeWidth":1},"encoding":{"y":{"field":"v","type":"quantitative","title":null}}},
  {"transform":[{"filter":"datum.s === 'Gaze'"}],"mark":{"type":"line","strokeWidth":2.8,"strokeJoin":"round"},
   "encoding":{"x":{"field":"t","type":"quantitative","scale":{"domain":[573.27,582.32],"nice":false,"zero":false},"axis":{"orient":"bottom","values":[574,575,576,577,578,579,580,581,582],"labelExpr":"'' + datum.value","tickSize":-4,"labelPadding":7,"title":"Time from start of drive (s)","titlePadding":10}},
   "y":{"field":"v","type":"quantitative","scale":{"domain":[-90,90],"reverse":true,"nice":false,"zero":false},"axis":{"values":[-90,-60,-30,0,30,60,90],"labelExpr":"'' + datum.value","tickSize":-5,"labelPadding":8},"title":null},
   "color":{"field":"s","type":"nominal","title":null},
   "detail":{"field":"g","type":"nominal"}}},
  {"transform":[{"filter":"datum.s === 'Head'"}],"mark":{"type":"line","strokeWidth":3,"strokeJoin":"round"},
   "encoding":{"x":{"field":"t","type":"quantitative","axis":{"orient":"top","values":[573.85,575.2,576.48,577.82,579.24,580.83],"labelExpr":"['100','80','60','40','20','0'][indexof([573.85,575.2,576.48,577.82,579.24,580.83], datum.value)]","tickSize":-6,"labelPadding":9,"title":null}},
   "y":{"field":"v","type":"quantitative","title":null},
   "color":{"field":"s","type":"nominal","title":null},
   "detail":{"field":"g","type":"nominal"}}},
  {"transform":[{"filter":"datum.s === 'Saccade'"}],"mark":{"type":"line","strokeWidth":4,"strokeJoin":"round"},
   "encoding":{"x":{"field":"t","type":"quantitative","axis":null},
   "y":{"field":"v","type":"quantitative","title":null},
   "color":{"field":"s","type":"nominal","title":null},
   "detail":{"field":"g","type":"nominal"}}},
  {"data":{"name":"arrows"},"mark":{"type":"rule","color":"#000000","strokeWidth":5},
   "encoding":{"x":{"field":"t1","type":"quantitative","axis":null},"x2":{"field":"t2"},"y":{"field":"v1","type":"quantitative","title":null},"y2":{"field":"v2"}}},
  {"data":{"name":"arrows"},"mark":{"type":"point","shape":"triangle-right","angle":32,"filled":true,"color":"#000000","opacity":1,"size":190},
   "encoding":{"x":{"field":"t2","type":"quantitative","axis":null},"y":{"field":"v2","type":"quantitative","title":null}}}
 ],
 "resolve":{"axis":{"x":"independent"}}
}
], "spacing": 43}
],
"config": {
 "view": {"stroke": "#9a9a9a", "strokeWidth": 1},
 "axis": {"grid": false, "domain": false, "labelFont": "Liberation Sans Narrow, DejaVu Sans Condensed, Liberation Sans", "labelFontSize": 14, "labelColor": "#262626", "tickColor": "#262626", "tickWidth": 1, "titleFont": "Lato", "titleFontSize": 14.5, "titleFontWeight": "normal", "titleColor": "#000000", "labelFlush": false, "labelOverlap": false},
 "legend": {"orient": "none", "legendX": 730, "legendY": 287, "labelFont": "Lato", "labelFontSize": 16.5, "labelFontWeight": "bold", "symbolType": "stroke", "symbolStrokeWidth": 5, "symbolSize": 340, "rowPadding": -4, "labelOffset": 3}
}
}
